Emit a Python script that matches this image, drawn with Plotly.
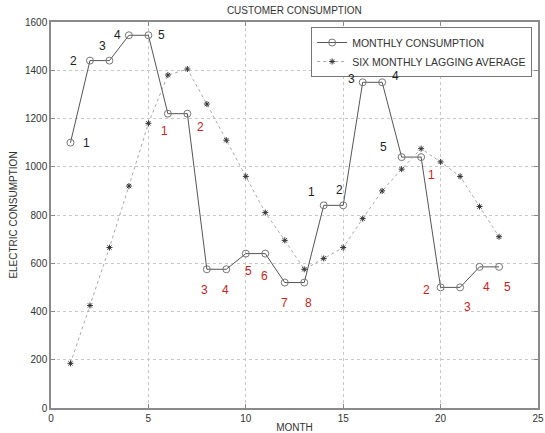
import plotly.graph_objects as go

# ---- data ----
months = list(range(1, 24))
monthly = [1100, 1440, 1440, 1545, 1545, 1220, 1220, 575, 575, 640, 640, 520, 520,
           840, 840, 1350, 1350, 1040, 1040, 500, 500, 585, 585]
lagging_avg = [185, 425, 665, 920, 1180, 1380, 1405, 1260, 1110, 960, 810, 695, 575,
               620, 665, 785, 900, 990, 1075, 1020, 960, 835, 710]
point_labels = ["1", "2", "3", "4", "5", "1", "2", "3", "4", "5", "6", "7", "8",
                "1", "2", "3", "4", "5", "1", "2", "3", "4", "5"]
label_is_red = [False] * 5 + [True] * 8 + [False] * 5 + [True] * 5
x_ticks = [0, 5, 10, 15, 20, 25]
y_ticks = [0, 200, 400, 600, 800, 1000, 1200, 1400, 1600]

# ---- label placement (pixel offsets from each point; styling only) ----
label_offsets = [(16, 0), (-16, 0), (-7, 15), (-11, 0), (13, 0),
                 (-3, -17), (13, -13), (-2, -21), (-1, -21), (3, -17), (-1, -22),
                 (0, -20), (4, -20),
                 (-12, 13), (-4, 15), (-11, 3), (13, 6), (-18, 10),
                 (10, -18), (-14, -3), (7, -20), (7, -20), (8, -20)]

FONT = "Liberation Sans, Arial, sans-serif"

fig = go.Figure()
fig.add_trace(go.Scatter(
    x=months, y=monthly, mode="lines+markers", name="MONTHLY CONSUMPTION",
    line=dict(color="#555555", width=1),
    marker=dict(symbol="circle-open", size=7, color="#777777", line=dict(width=1)),
))
fig.add_trace(go.Scatter(
    x=months, y=lagging_avg, mode="lines+markers", name="SIX MONTHLY LAGGING AVERAGE",
    line=dict(color="#aaaaaa", width=1, dash="dot"),
    marker=dict(symbol="asterisk-open", size=5, color="#333333", line=dict(width=1)),
))

for i, (xv, yv) in enumerate(zip(months, monthly)):
    dx, dy = label_offsets[i]
    fig.add_annotation(
        x=xv, y=yv, text=point_labels[i], showarrow=False,
        xshift=dx, yshift=dy,
        font=dict(family=FONT, size=12, color="#cc2222" if label_is_red[i] else "#222222"),
    )

axis_common = dict(
    showgrid=True, gridcolor="#c8c8c8", griddash="dot", gridwidth=1,
    zeroline=False, showline=True, linecolor="#8a8a8a", linewidth=1.5, mirror="ticks",
    ticks="inside", ticklen=4, tickcolor="#8a8a8a",
    tickfont=dict(family=FONT, size=10, color="#333333"),
    automargin=False,
)

fig.update_xaxes(range=[0, 25], tickvals=x_ticks, **axis_common,
                 title=dict(text="MONTH", font=dict(family=FONT, size=10, color="#333333"), standoff=10))
fig.update_yaxes(range=[0, 1600], tickvals=y_ticks, **axis_common,
                 title=dict(text="ELECTRIC CONSUMPTION", font=dict(family=FONT, size=10, color="#333333"), standoff=6))

fig.update_layout(
    width=545, height=433,
    margin=dict(l=51, r=7, t=22, b=25),
    paper_bgcolor="white", plot_bgcolor="white",
    title=dict(text="CUSTOMER CONSUMPTION", x=0.54, xanchor="center", y=0.983, yanchor="top",
               font=dict(family=FONT, size=10, color="#333333")),
    legend=dict(x=0.988, y=0.987, xanchor="right", yanchor="top",
                bgcolor="white", bordercolor="#777777", borderwidth=1,
                font=dict(family=FONT, size=10.5, color="#333333"),
                itemwidth=30, tracegroupgap=0),
    showlegend=True,
)

fig.write_html("out.html")
